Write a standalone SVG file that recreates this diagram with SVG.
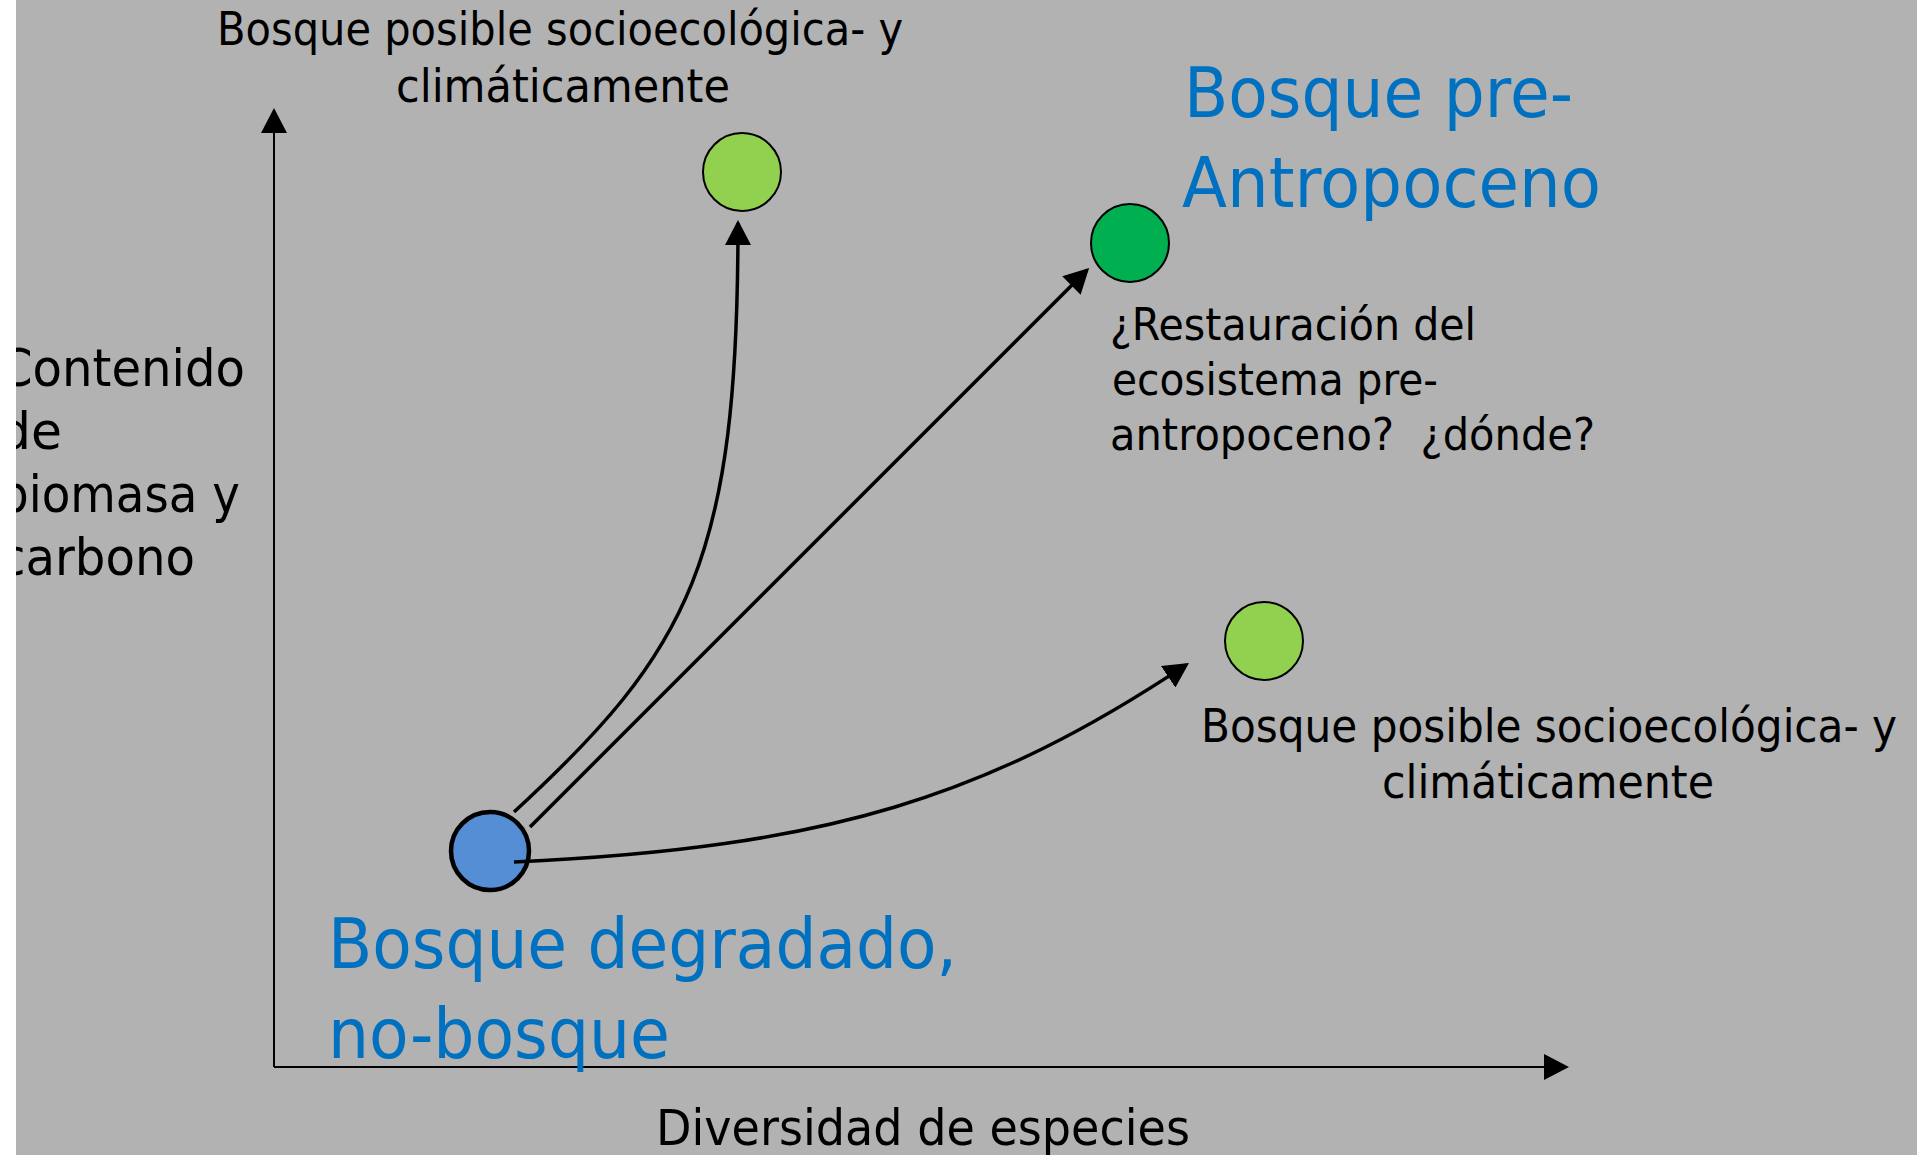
<svg xmlns="http://www.w3.org/2000/svg" width="1917" height="1155" viewBox="0 0 1917 1155">
<defs>
<style>
.t{font-family:"DejaVu Sans","Liberation Sans",sans-serif;fill:#000}
.c{font-family:"Liberation Sans Narrow","DejaVu Sans Condensed","Liberation Sans",sans-serif;fill:#000;font-size:47px}
.b{font-family:"DejaVu Sans","Liberation Sans",sans-serif;fill:#0070c0;font-size:70px}
.ax{fill:none;stroke:#000;stroke-width:2}
.cn{fill:none;stroke:#000;stroke-width:3.5}
</style>
<marker id="ah" markerUnits="userSpaceOnUse" markerWidth="26" markerHeight="26" refX="22" refY="13" orient="auto">
<path d="M0,0 L25,13 L0,26 z" fill="#000"/>
</marker>
</defs>
<rect x="0" y="0" width="1917" height="1155" fill="#b2b2b2"/>

<g id="axes">
<path class="ax" d="M274,1067 L274,111" marker-end="url(#ah)"/>
<path class="ax" d="M274,1067 L1566,1067" marker-end="url(#ah)"/>
</g>

<g id="label-y">
<text class="t" font-size="52"><tspan x="-1" y="386" textLength="246" lengthAdjust="spacingAndGlyphs">Contenido</tspan><tspan x="-1" y="449" textLength="63" lengthAdjust="spacingAndGlyphs">de</tspan><tspan x="-1" y="512" textLength="241" lengthAdjust="spacingAndGlyphs">biomasa y</tspan><tspan x="-1" y="575" textLength="196" lengthAdjust="spacingAndGlyphs">carbono</tspan></text>
</g>

<g id="label-x">
<text class="t" font-size="50" x="656" y="1145" textLength="534" lengthAdjust="spacingAndGlyphs">Diversidad de especies</text>
</g>

<g id="node-degradado">
<circle cx="490" cy="851" r="39" fill="#558ed5" stroke="#000" stroke-width="4.5"/>
<text class="b"><tspan x="328" y="968" textLength="629" lengthAdjust="spacingAndGlyphs">Bosque degradado,</tspan><tspan x="328" y="1058" textLength="342" lengthAdjust="spacingAndGlyphs">no-bosque</tspan></text>
</g>

<g id="node-posible-top">
<circle cx="742" cy="172" r="39" fill="#92d050" stroke="#000" stroke-width="2"/>
<text class="c" text-anchor="middle"><tspan x="560" y="45" textLength="686" lengthAdjust="spacingAndGlyphs">Bosque posible socioecológica- y</tspan><tspan x="563" y="102" textLength="334" lengthAdjust="spacingAndGlyphs">climáticamente</tspan></text>
</g>

<g id="node-pre">
<circle cx="1130" cy="243" r="39" fill="#00b050" stroke="#000" stroke-width="2"/>
<text class="b" font-size="72"><tspan x="1184" y="117" textLength="389" lengthAdjust="spacingAndGlyphs">Bosque pre-</tspan><tspan x="1182" y="207" textLength="419" lengthAdjust="spacingAndGlyphs">Antropoceno</tspan></text>
<text class="t" font-size="44" xml:space="preserve"><tspan x="1110" y="340" textLength="366" lengthAdjust="spacingAndGlyphs">¿Restauración del</tspan><tspan x="1112" y="395" textLength="326" lengthAdjust="spacingAndGlyphs">ecosistema pre-</tspan><tspan x="1110" y="450" textLength="485" lengthAdjust="spacingAndGlyphs">antropoceno?  ¿dónde?</tspan></text>
</g>

<g id="node-posible-right">
<circle cx="1264" cy="641" r="39" fill="#92d050" stroke="#000" stroke-width="2"/>
<text class="c" text-anchor="middle"><tspan x="1549" y="742" textLength="696" lengthAdjust="spacingAndGlyphs">Bosque posible socioecológica- y</tspan><tspan x="1548" y="798" textLength="332" lengthAdjust="spacingAndGlyphs">climáticamente</tspan></text>
</g>

<g id="connectors">
<path class="cn" d="M514,812 C690,650 738,560 738,223" marker-end="url(#ah)"/>
<path class="cn" d="M530,827 L1087,270" marker-end="url(#ah)"/>
<path class="cn" d="M514,862 C830,848 990,795 1186.5,664.6" marker-end="url(#ah)"/>
</g>

<rect x="0" y="0" width="16" height="1155" fill="#fff"/>
</svg>
